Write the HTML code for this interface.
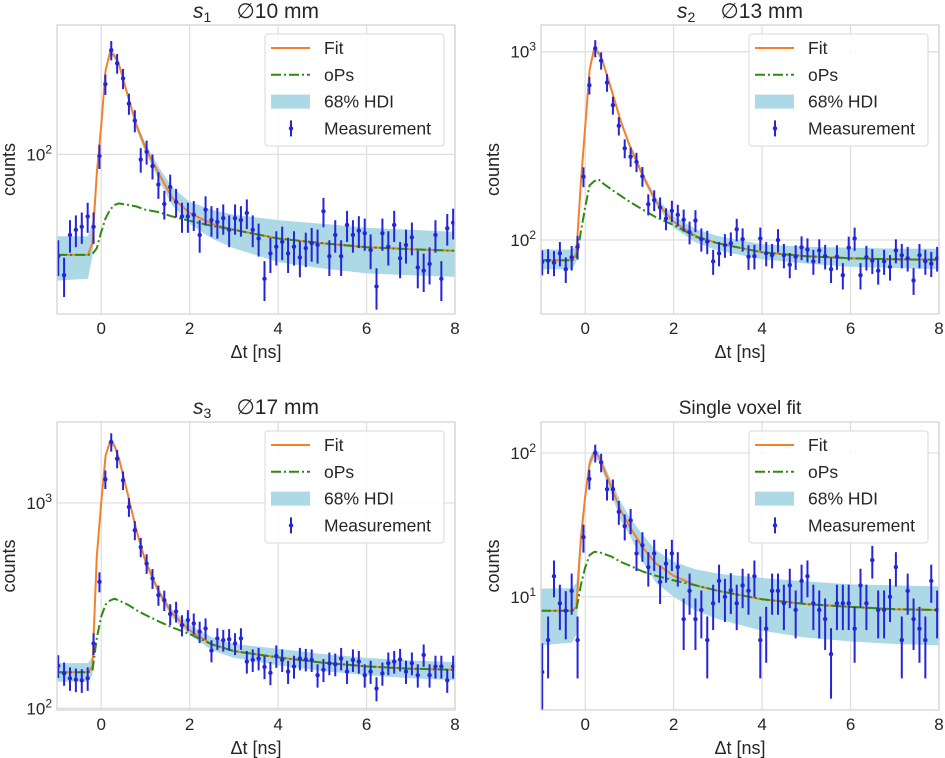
<!DOCTYPE html>
<html><head><meta charset="utf-8">
<style>
html,body{margin:0;padding:0;background:#fff;}
svg{display:block;font-family:"Liberation Sans","DejaVu Sans",sans-serif;}
</style></head>
<body>
<svg id="fig" width="945" height="758" viewBox="0 0 945 758" xmlns="http://www.w3.org/2000/svg"></svg>
<script>
// ---------- shared data ----------
const binStart = -0.973, binStep = 0.1333; // bin centres (ns)
const knotT = [-1,-0.3,-0.2,-0.1,0,0.1,0.2,0.3,0.4,0.6,0.8,1.0,1.3,1.6,2.0,2.5,3,4,5,6,7,8];
const xTicks = [0,2,4,6,8];

// ---------- panel 1 ----------
const meas1 = [30,24,38.6,41,42.5,48,42.5,98,229,342,293,245,182,149,94,103,87,70,55.6,68,57,48,48,49,38.6,52,46,45,47,41,47,46,50,41,37,23,31,33.6,35.6,31,33.6,29.6,33,35,34.3,51,30,38.6,30,43.4,38.6,40.6,39.4,32.3,21,39.4,33.6,43.4,29.3,34.3,37.5,26.3,25.3,27.4,38.6,23,41.7,44.6];
const fit1 = [30.5,30.5,35,80,140,270,335,320,290,200,140,108,80,60,50,44,41,37,35,33.4,32.6,32];
const ops1 = [30.5,30.5,30.8,33,40,47,52,55,56,55,54,52,50.5,48,45.6,43,41,37,35,33.4,32.6,32];
const hdiLo1 = [22.5,23,30,75,135,260,325,310,280,192,133,102,74,55,44,37,33,28,26,24.5,24,23.5];
const hdiHi1 = [38,38,45,85,145,280,345,330,300,208,147,114,86,68,57,52,49,46,44,42,41,40];

// ---------- panel 2 ----------
const meas2 = [76.5,77.7,75.8,85,70,80.9,92,217,664,1043,898,686,520,404,307,277,260,218,155,163,149,130,143,136,128,110,127,101,98,77,85,94,96,114,101,81.6,82,102,85,83,100,83,74,81.6,91.4,89,77,88,82,70,81.6,65,91,102,65,81,77.7,68.7,77,72,88,83,80,61,83,77,75,80];
const fit2 = [78,78,85,200,400,800,1040,990,880,620,430,320,220,160,125,105,96,86,82,80,79,78.5];
const ops2 = [78,78,80,110,150,195,205,210,200,185,172,160,145,132,120,104,96,86,82,80,79,78.5];
const hdiLo2 = [70,70,77,190,385,775,1010,960,855,600,415,308,211,153,116,97,88,79,75,72,71,70];
const hdiHi2 = [89,89,95,210,415,825,1070,1020,905,640,445,332,230,168,134,114,105,95,92,91,90,90];

// ---------- panel 3 ----------
const meas3 = [161,148,140,138,137,140,207,413,1303,1980,1643,1289,956,737,610,507,429,356,336,288,296,254,269,259,236,245,191,219,215,217,207,219,169,172,175,159,149,180,172,151,160,175,173,172,145,154,166,164,175,151,172,169,145,151,125,148,166,169,173,151,166,145,182,145,160,160,137,160];
const fit3 = [150,150,160,550,1000,1700,2000,1900,1650,1100,730,520,370,290,240,205,190,177,167,160,156,154];
const ops3 = [150,150,152,220,280,320,335,342,335,320,300,285,265,248,230,205,190,177,167,160,156,154];
const hdiLo3 = [135,135,145,520,960,1650,1940,1840,1600,1065,705,500,355,277,228,192,176,162,152,145,140,137];
const hdiHi3 = [166,166,178,580,1040,1750,2060,1960,1700,1135,755,540,385,303,255,222,206,195,184,176,171,168];

// ---------- panel 4 ----------
const meas4 = [3.0,5.0,13.9,9.0,8.0,11.0,5.0,26,66,100,86,56,56,39,31,34,20,22.8,16.1,20,12.7,17.0,20,16.1,7.0,11.0,7.0,8.1,5.0,9.0,12.9,10,11.1,9.0,12.0,11.0,13.9,5.0,6.0,11.0,11.0,9.0,12.0,8.1,12.9,13.9,9.0,8.1,7.0,4.0,9.0,9.0,9.0,6.0,12.0,9.0,18,8.1,8.1,10,16.1,5.0,11.0,7.0,6.0,5.0,12.9,8.1];
const fit4 = [8,8,8.5,25,50,85,100,95,80,57,40,31,22,17,14,12,11,9.6,8.9,8.5,8.2,8.1];
const ops4 = [8,8,8.2,12,16,19.5,20.5,20.5,20,19,17.5,16.5,15,14,13,12,11,9.6,8.9,8.5,8.2,8.1];
const hdiLo4 = [4.6,4.8,5.5,20,44,78,93,88,73,51,34,27,17.5,12.5,10,8,7,5.8,5.2,4.9,4.7,4.6];
const hdiHi4 = [11.4,11.5,12.5,30,56,92,107,102,87,63,46,36,27,21,17.5,15.5,14.5,13.5,12.8,12.2,12,11.8];

// ---------- drawing ----------
const NS = 'http://www.w3.org/2000/svg';
const svg = document.getElementById('fig');
function mk(tag, attrs, parent){
  const e = document.createElementNS(NS, tag);
  for (const k in attrs) e.setAttribute(k, attrs[k]);
  (parent || svg).appendChild(e);
  return e;
}

const panels = [
  {id:'s1', L:57, R:455, T:25, B:314, yMin:1.181, yMax:2.663, yTicks:[2], meas:meas1, fit:fit1, ops:ops1, lo:hdiLo1, hi:hdiHi1, title:['s','1','10 mm'], titleY:18},
  {id:'s2', L:541, R:939, T:25, B:314, yMin:1.607, yMax:3.142, yTicks:[2,3], meas:meas2, fit:fit2, ops:ops2, lo:hdiLo2, hi:hdiHi2, title:['s','2','13 mm'], titleY:18},
  {id:'s3', L:57, R:455, T:422, B:710, yMin:1.992, yMax:3.394, yTicks:[2,3], meas:meas3, fit:fit3, ops:ops3, lo:hdiLo3, hi:hdiHi3, title:['s','3','17 mm'], titleY:414},
  {id:'single', L:541, R:939, T:422, B:710, yMin:0.213, yMax:2.215, yTicks:[1,2], meas:meas4, fit:fit4, ops:ops4, lo:hdiLo4, hi:hdiHi4, title:null, titleY:414}
];

const C_HDI = '#add8e6', C_FIT = '#f4812a', C_OPS = '#2f8a10', C_MEAS = '#2424d8', C_GRID = '#dedede';

panels.forEach((p, pi) => {
  const g = mk('g', {});
  
  
  const xs = t => p.L + (t + 1) / 9 * (p.R - p.L);
  const ys = c => p.B - (Math.log10(c) - p.yMin) / (p.yMax - p.yMin) * (p.B - p.T);

  const cp = mk('clipPath', {id: 'clip' + pi}, g);
  mk('rect', {x: p.L, y: p.T, width: p.R - p.L, height: p.B - p.T}, cp);

  xTicks.forEach(t => {
    const l = mk('line', {x1: xs(t), x2: xs(t), y1: p.T, y2: p.B, stroke: C_GRID, 'stroke-width': 1.2}, g);
    
    
  });
  p.yTicks.forEach(e => {
    const l = mk('line', {x1: p.L, x2: p.R, y1: ys(Math.pow(10, e)), y2: ys(Math.pow(10, e)), stroke: C_GRID, 'stroke-width': 1.2}, g);
    
    
  });

  const plot = mk('g', {'clip-path': 'url(#clip' + pi + ')'}, g);
  
  

  let d = '';
  knotT.forEach((t, i) => { d += (i ? 'L' : 'M') + xs(t).toFixed(1) + ',' + ys(p.hi[i]).toFixed(1); });
  for (let i = knotT.length - 1; i >= 0; i--) d += 'L' + xs(knotT[i]).toFixed(1) + ',' + ys(p.lo[i]).toFixed(1);
  const band = mk('path', {d: d + 'Z', fill: C_HDI, stroke: 'none'}, plot);
  
  

  const fitPts = knotT.map((t, i) => xs(t).toFixed(1) + ',' + ys(p.fit[i]).toFixed(1)).join(' ');
  const fl = mk('polyline', {points: fitPts, fill: 'none', stroke: C_FIT, 'stroke-width': 2, 'stroke-linejoin': 'round'}, plot);
  
  

  const opsPts = knotT.map((t, i) => xs(t).toFixed(1) + ',' + ys(p.ops[i]).toFixed(1)).join(' ');
  const ol = mk('polyline', {points: opsPts, fill: 'none', stroke: C_OPS, 'stroke-width': 2, 'stroke-dasharray': '10,3,2,3', 'stroke-linejoin': 'round'}, plot);
  
  

  p.meas.forEach((c, i) => {
    const t = binStart + binStep * i;
    const x = xs(t), e = c * Math.sqrt(1 / c + 0.01);
    const lo = Math.max(c - e, c * 0.05);
    const bar = mk('line', {x1: x, x2: x, y1: ys(c + e), y2: ys(lo), stroke: C_MEAS, 'stroke-width': 2}, plot);
    
    
    const dot = mk('circle', {cx: x, cy: ys(c), r: 2.2, fill: C_MEAS}, plot);
    
    
  });

  const fr = mk('rect', {x: p.L, y: p.T, width: p.R - p.L, height: p.B - p.T, fill: 'none', stroke: '#d4d4d4', 'stroke-width': 1.3}, g);
  
  

  xTicks.forEach(t => {
    const tx = mk('text', {x: xs(t), y: p.B + 20, 'font-size': 17, fill: '#262626', 'text-anchor': 'middle'}, g);
    tx.textContent = String(t);
    
    
  });
  p.yTicks.forEach(e => {
    const y = ys(Math.pow(10, e));
    const tx = mk('text', {x: p.L - 5, y: y + 6, 'font-size': 17, fill: '#262626', 'text-anchor': 'end'}, g);
    
    
    const a = mk('tspan', {}, tx); a.textContent = '10';
    const b = mk('tspan', {dy: -7, 'font-size': 12}, tx); b.textContent = String(e);
  });

  const xl = mk('text', {x: (p.L + p.R) / 2, y: p.B + 44, 'font-size': 18, fill: '#262626', 'text-anchor': 'middle'}, g);
  xl.textContent = 'Δt [ns]';
  
  
  const yc = (p.T + p.B) / 2, yx = p.L - 42;
  const yl = mk('text', {x: yx, y: yc, 'font-size': 18, fill: '#262626', 'text-anchor': 'middle', transform: 'rotate(-90 ' + yx + ' ' + yc + ')'}, g);
  yl.textContent = 'counts';
  
  

  const tt = mk('text', {x: (p.L + p.R) / 2, y: p.titleY, 'font-size': 21, fill: '#262626', 'text-anchor': 'middle'}, g);
  
  
  if (p.title) {
    const s = mk('tspan', {'font-style': 'italic'}, tt); s.textContent = p.title[0];
    const sub = mk('tspan', {dy: 4, 'font-size': 14}, tt); sub.textContent = p.title[1];
    const rest = mk('tspan', {dy: -4}, tt); rest.textContent = '\u2003\u2009\u2205' + p.title[2];
  } else {
    tt.setAttribute('font-size', 19);
    tt.textContent = 'Single voxel fit';
  }

  const lx = p.R - 190, ly = p.T + 9;
  const lg = mk('g', {}, g);
  
  
  mk('rect', {x: lx, y: ly, width: 179, height: 112, rx: 3, fill: '#fff', 'fill-opacity': 0.85, stroke: '#d8d8d8', 'stroke-width': 1}, lg);
  const hx = lx + 6, tx0 = lx + 59;
  const rows = [
    {name: 'legend-entry-fit', label: 'Fit'},
    {name: 'legend-entry-ops', label: 'oPs'},
    {name: 'legend-entry-hdi', label: '68% HDI'},
    {name: 'legend-entry-measurement', label: 'Measurement'}
  ];
  rows.forEach((r, i) => {
    const cy = ly + 14 + i * 26.8;
    const eg = mk('g', {}, lg);
    
    
    if (i === 0) mk('line', {x1: hx, x2: hx + 39, y1: cy, y2: cy, stroke: C_FIT, 'stroke-width': 2}, eg);
    if (i === 1) mk('line', {x1: hx, x2: hx + 39, y1: cy, y2: cy, stroke: C_OPS, 'stroke-width': 2, 'stroke-dasharray': '10,3,2,3'}, eg);
    if (i === 2) mk('rect', {x: hx, y: cy - 7, width: 39, height: 14, fill: C_HDI}, eg);
    if (i === 3) {
      mk('line', {x1: hx + 20, x2: hx + 20, y1: cy - 8, y2: cy + 8, stroke: C_MEAS, 'stroke-width': 2}, eg);
      mk('circle', {cx: hx + 20, cy: cy, r: 2.2, fill: C_MEAS}, eg);
    }
    const t = mk('text', {x: tx0, y: cy + 6, 'font-size': 17.5, fill: '#262626'}, eg);
    t.textContent = r.label;
  });
});
</script>
</body></html>
